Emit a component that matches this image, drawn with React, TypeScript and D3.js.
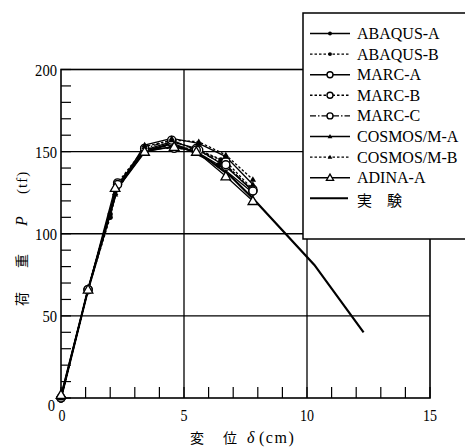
import React from "react";
import * as d3 from "d3";

const W = 465;
const H = 448;

const xTicks = [0, 5, 10, 15];
const yTicks = [0, 50, 100, 150, 200];
const xMinor = d3.range(0, 16, 1);
const yMinor = d3.range(0, 201, 10);

type Pt = [number, number];

const seriesNames = [
  "ABAQUS-A",
  "ABAQUS-B",
  "MARC-A",
  "MARC-B",
  "MARC-C",
  "COSMOS/M-A",
  "COSMOS/M-B",
  "ADINA-A",
  "実　験",
];

const abaqusA: Pt[] = [[0, 0], [1.1, 66], [2.0, 112], [2.3, 128], [3.4, 150], [4.5, 153], [5.5, 150], [6.4, 142], [7.8, 125]];
const abaqusB: Pt[] = [[0, 0], [1.1, 66], [2.0, 110], [2.3, 129], [3.4, 151], [4.5, 154], [5.5, 151], [6.5, 145], [7.8, 126]];
const marcA: Pt[] = [[0, 0], [1.1, 66], [2.3, 130], [3.4, 151], [4.5, 156], [5.5, 152], [6.7, 141], [7.8, 126]];
const marcB: Pt[] = [[0, 0], [1.1, 66], [2.3, 131], [3.4, 152], [4.6, 152], [5.6, 151], [6.7, 144], [7.8, 127]];
const marcC: Pt[] = [[0, 0], [1.1, 66], [2.3, 130], [3.4, 152], [4.5, 157], [5.5, 151], [6.7, 142], [7.8, 126]];
const cosmosA: Pt[] = [[0, 0], [1.1, 66], [2.2, 125], [3.4, 154], [4.5, 158], [5.6, 155], [6.7, 147], [7.8, 130]];
const cosmosB: Pt[] = [[0, 0], [1.1, 66], [2.2, 124], [3.4, 153], [4.5, 157], [5.6, 156], [6.7, 148], [7.8, 133]];
const adinaA: Pt[] = [[0, 2], [1.1, 66], [2.2, 128], [3.4, 150], [4.6, 153], [5.5, 150], [6.7, 135], [7.8, 120]];
const experiment: Pt[] = [[0, 0], [1.1, 66], [2.3, 128], [2.8, 138], [3.4, 150], [4.5, 155], [5.2, 151], [6.0, 145], [6.9, 135], [7.9, 120], [10.3, 81], [12.3, 40]];

const seriesData: Pt[][] = [abaqusA, abaqusB, marcA, marcB, marcC, cosmosA, cosmosB, adinaA, experiment];
const seriesDash = ["", "2.5,2", "", "2.5,2", "6,2,1.5,2", "", "2.5,2", "", ""];
const seriesMarker = ["dot", "dot", "circle", "circle", "circle", "ftri", "ftri", "otri", "none"];
const seriesWidth = [1.3, 1.3, 1.3, 1.3, 1.3, 1.3, 1.3, 1.3, 2.2];

const serif = "'Liberation Serif', 'Times New Roman', serif";
const cjk = "'Noto Sans CJK JP', sans-serif";

function Marker({ kind, cx, cy, k = 1 }: { kind: string; cx: number; cy: number; k?: number }) {
  if (kind === "dot") return <circle cx={cx} cy={cy} r={2.6 * k} fill="#000" />;
  if (kind === "circle") return <circle cx={cx} cy={cy} r={4 * k} fill="#fff" stroke="#000" strokeWidth={1.4} />;
  if (kind === "ftri") {
    const s = 3.2 * k;
    return <path d={`M${cx},${cy - s}L${cx + s},${cy + s * 0.7}L${cx - s},${cy + s * 0.7}Z`} fill="#000" />;
  }
  if (kind === "otri") {
    const s = 4.8 * k;
    return <path d={`M${cx},${cy - s}L${cx + s},${cy + s * 0.75}L${cx - s},${cy + s * 0.75}Z`} fill="#fff" stroke="#000" strokeWidth={1.3} />;
  }
  return null;
}

export default function App() {
  const x = d3.scaleLinear().domain([0, 15]).range([61, 430]);
  const y = d3.scaleLinear().domain([0, 200]).range([398, 69.5]);
  const line = d3
    .line<Pt>()
    .x((d) => x(d[0]))
    .y((d) => y(d[1]));

  const legX = 303;
  const legY = 13;
  const rowBase = (i: number) => 39 + 20.6 * i;

  return (
    <svg
      width={W}
      height={H}
      style={{ position: "absolute", left: 0, top: 0, background: "#fff" }}
    >
      <rect x={0} y={0} width={W} height={H} fill="#fff" />
      {/* gridlines */}
      {[50, 100, 150].map((v) => (
        <line key={"gy" + v} x1={x(0)} x2={x(15)} y1={y(v)} y2={y(v)} stroke="#000" strokeWidth={1.3} />
      ))}
      {[5, 10].map((v) => (
        <line key={"gx" + v} x1={x(v)} x2={x(v)} y1={y(0)} y2={y(200)} stroke="#000" strokeWidth={1.3} />
      ))}
      {/* minor ticks */}
      {yMinor.map((v) => (
        <line key={"ty" + v} x1={x(0)} x2={x(0) + 10} y1={y(v)} y2={y(v)} stroke="#000" strokeWidth={1.2} />
      ))}
      {xMinor.map((v) => (
        <line key={"tx" + v} x1={x(v)} x2={x(v)} y1={y(0)} y2={y(0) - 11} stroke="#000" strokeWidth={1.2} />
      ))}
      {/* frame */}
      <rect x={x(0)} y={y(200)} width={x(15) - x(0)} height={y(0) - y(200)} fill="none" stroke="#000" strokeWidth={1.6} />

      {/* series lines */}
      {seriesData.map((d, i) => (
        <path
          key={"l" + i}
          d={line(d) || ""}
          fill="none"
          stroke="#000"
          strokeWidth={seriesWidth[i]}
          strokeDasharray={seriesDash[i] || undefined}
        />
      ))}
      {/* markers */}
      {seriesData.map((d, i) =>
        d.map((p, j) => (
          <Marker key={"m" + i + "-" + j} kind={seriesMarker[i]} cx={x(p[0])} cy={y(p[1])} />
        ))
      )}

      {/* y tick labels */}
      {yTicks.map((v) => (
        <text
          key={"yl" + v}
          x={v === 0 ? 55 : 57}
          y={y(v) + (v === 0 ? 13 : 6)}
          textAnchor="end"
          fontFamily={serif}
          fontSize={17}
          textLength={7.3 * String(v).length}
          lengthAdjust="spacingAndGlyphs"
        >
          {v}
        </text>
      ))}
      {/* x tick labels */}
      {xTicks.map((v) => (
        <text
          key={"xl" + v}
          x={x(v) + (v === 0 ? 1 : 0)}
          y={421}
          textAnchor="middle"
          fontFamily={serif}
          fontSize={17}
          textLength={7.0 * String(v).length}
          lengthAdjust="spacingAndGlyphs"
        >
          {v}
        </text>
      ))}

      {/* x axis title */}
      <text y={443} fontSize={14}>
        <tspan x={190} fontFamily={cjk}>変</tspan>
        <tspan x={223} fontFamily={cjk}>位</tspan>
        <tspan x={247} fontFamily={serif} fontStyle="italic" fontSize={16}>δ</tspan>
        <tspan x={259} fontFamily={serif} fontSize={16} letterSpacing={1.5}>(cm)</tspan>
      </text>

      {/* y axis title */}
      <text transform="translate(27,0) rotate(-90)" fontSize={14}>
        <tspan x={-306} fontFamily={cjk}>荷</tspan>
        <tspan x={-268} fontFamily={cjk}>重</tspan>
        <tspan x={-226} fontFamily={serif} fontStyle="italic" fontSize={16}>P</tspan>
        <tspan x={-194} fontFamily={serif} fontSize={15} letterSpacing={1}>(tf)</tspan>
      </text>

      {/* legend */}
      <rect x={legX} y={legY} width={W - legX + 5} height={239 - legY} fill="#fff" stroke="#000" strokeWidth={1.5} />
      {seriesNames.map((name, i) => {
        const by = rowBase(i);
        const cy = by - 5.5;
        const isExp = i === 8;
        return (
          <g key={"lg" + i}>
            <line
              x1={310}
              x2={isExp ? 348 : 350}
              y1={cy}
              y2={cy}
              stroke="#000"
              strokeWidth={isExp ? 2 : 1.4}
              strokeDasharray={seriesDash[i] || undefined}
            />
            <Marker kind={seriesMarker[i]} cx={330} cy={cy} k={0.75} />
            <text
              x={357}
              y={isExp ? by + 2 : by}
              fontFamily={isExp ? cjk : serif}
              fontSize={isExp ? 15 : 16}
            >
              {name}
            </text>
          </g>
        );
      })}
    </svg>
  );
}
